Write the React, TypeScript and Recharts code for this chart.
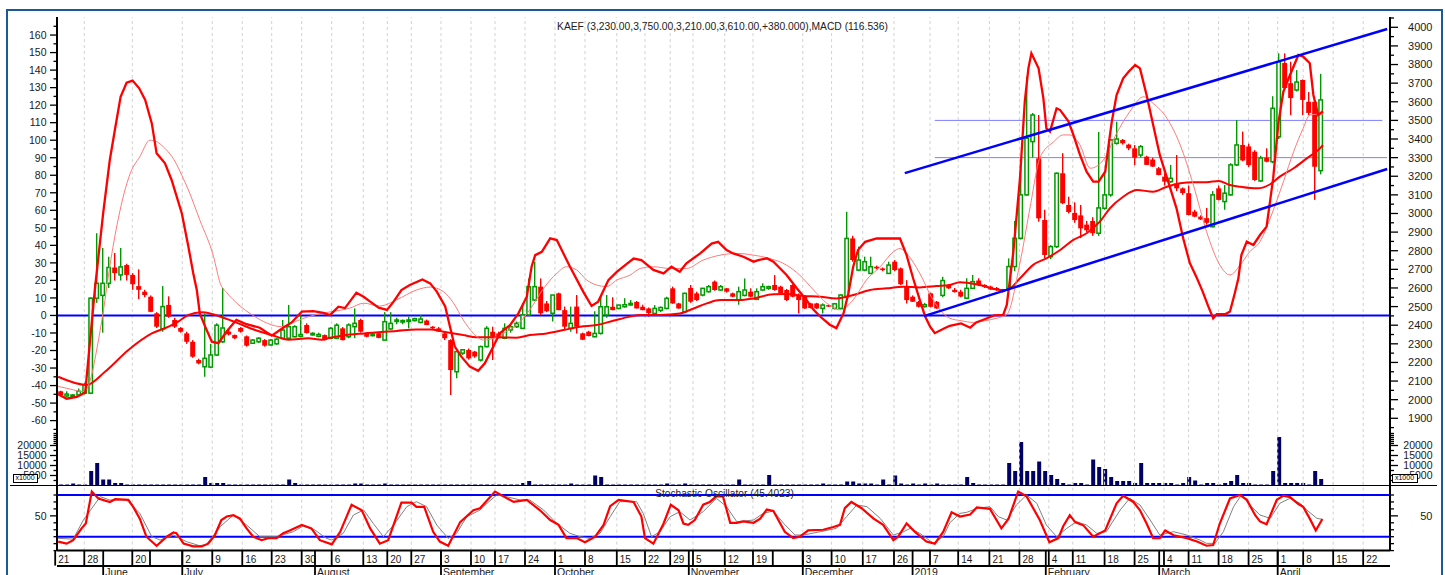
import React from 'react';
import { ComposedChart, Bar, Line, XAxis, YAxis, ReferenceLine } from 'recharts';

const FONT = '"Liberation Sans", Arial, Helvetica, sans-serif';
const GREEN = '#009a00';
const RED = '#ff0000';
const BLUE = '#0000ff';
const NAVY = '#000066';
const GRID = '#d2d2d2';

// x axis = trading-day slot index
const X_DOMAIN: [number, number] = [0.3, 222.47];
const FIRST_SLOT = 1;
const MACD_DOMAIN: [number, number] = [-66.5, 170.3];
const PRICE_DOMAIN: [number, number] = [1826.4, 4055.3];

// OHLC per trading slot (slot 1 .. 211) : [open, high, low, close]
const ohlc: [number, number, number, number][] = [
  [2045, 2048, 2018, 2025], [2020, 2045, 2012, 2030], [2018, 2030, 2012, 2025], [2025, 2060, 2020, 2045], [2035, 2090, 2028, 2080],
  [2035, 2550, 2030, 2545], [2545, 2894, 2520, 2625], [2560, 2815, 2360, 2625], [2625, 2768, 2600, 2710], [2710, 2788, 2640, 2680],
  [2670, 2815, 2640, 2713], [2723, 2730, 2640, 2670], [2670, 2680, 2590, 2620], [2610, 2700, 2540, 2590], [2580, 2590, 2550, 2562],
  [2553, 2560, 2470, 2472], [2464, 2470, 2385, 2392], [2380, 2610, 2365, 2500], [2509, 2555, 2440, 2446], [2428, 2440, 2385, 2392],
  [2385, 2390, 2360, 2365], [2356, 2365, 2300, 2311], [2311, 2320, 2225, 2231], [2213, 2220, 2190, 2195], [2177, 2464, 2123, 2222],
  [2175, 2300, 2169, 2240], [2240, 2410, 2235, 2400], [2311, 2600, 2305, 2385], [2365, 2375, 2345, 2350], [2347, 2350, 2325, 2330],
  [2385, 2390, 2360, 2365], [2340, 2345, 2285, 2290], [2303, 2325, 2300, 2320], [2311, 2335, 2305, 2330], [2320, 2325, 2285, 2290],
  [2294, 2325, 2290, 2320], [2300, 2330, 2295, 2325], [2330, 2428, 2325, 2374], [2330, 2509, 2325, 2392], [2338, 2400, 2335, 2392],
  [2340, 2455, 2335, 2350], [2401, 2410, 2355, 2358], [2350, 2362, 2345, 2356], [2340, 2360, 2335, 2350], [2347, 2350, 2318, 2320],
  [2330, 2390, 2325, 2383], [2330, 2410, 2325, 2400], [2383, 2390, 2318, 2320], [2338, 2410, 2330, 2401], [2392, 2490, 2330, 2410],
  [2428, 2435, 2360, 2365], [2356, 2360, 2335, 2338], [2348, 2356, 2340, 2352], [2356, 2360, 2330, 2332], [2320, 2470, 2318, 2419],
  [2380, 2470, 2375, 2410], [2420, 2440, 2405, 2428], [2418, 2430, 2405, 2425], [2420, 2446, 2383, 2428], [2425, 2440, 2420, 2435],
  [2415, 2455, 2410, 2433], [2425, 2430, 2400, 2401], [2392, 2395, 2380, 2383], [2383, 2390, 2365, 2366], [2356, 2360, 2320, 2330],
  [2320, 2325, 2025, 2159], [2150, 2260, 2115, 2258], [2250, 2270, 2240, 2268], [2267, 2275, 2215, 2222], [2258, 2262, 2225, 2232],
  [2213, 2290, 2205, 2285], [2285, 2395, 2280, 2383], [2365, 2392, 2213, 2338], [2356, 2365, 2330, 2338], [2330, 2410, 2325, 2383],
  [2375, 2400, 2360, 2392], [2392, 2420, 2385, 2410], [2383, 2517, 2380, 2455], [2455, 2651, 2450, 2607], [2535, 2741, 2530, 2607],
  [2607, 2651, 2455, 2464], [2517, 2530, 2470, 2475], [2464, 2562, 2420, 2562], [2571, 2575, 2480, 2481], [2481, 2500, 2375, 2392],
  [2383, 2500, 2365, 2410], [2500, 2562, 2355, 2392], [2356, 2360, 2320, 2322], [2365, 2370, 2340, 2342], [2338, 2475, 2335, 2356],
  [2356, 2562, 2350, 2499], [2455, 2562, 2440, 2499], [2499, 2550, 2480, 2481], [2490, 2510, 2485, 2508], [2499, 2545, 2495, 2510],
  [2510, 2535, 2505, 2517], [2525, 2530, 2490, 2490], [2499, 2510, 2480, 2481], [2490, 2495, 2446, 2465], [2463, 2508, 2460, 2490],
  [2480, 2500, 2470, 2495], [2490, 2553, 2485, 2544], [2598, 2607, 2515, 2517], [2517, 2520, 2488, 2490], [2472, 2575, 2470, 2571],
  [2600, 2616, 2520, 2526], [2571, 2580, 2530, 2535], [2562, 2600, 2555, 2598], [2580, 2616, 2575, 2607], [2634, 2640, 2585, 2589],
  [2589, 2616, 2585, 2607], [2598, 2600, 2575, 2580], [2571, 2575, 2550, 2553], [2535, 2607, 2510, 2580], [2560, 2651, 2555, 2589],
  [2580, 2598, 2550, 2553], [2539, 2598, 2535, 2580], [2589, 2625, 2585, 2607], [2598, 2612, 2590, 2607], [2616, 2669, 2585, 2589],
  [2607, 2612, 2570, 2571], [2589, 2595, 2530, 2535], [2616, 2620, 2550, 2553], [2562, 2571, 2463, 2535], [2553, 2560, 2488, 2490],
  [2517, 2520, 2490, 2492], [2517, 2520, 2488, 2490], [2490, 2517, 2463, 2508], [2508, 2510, 2498, 2500], [2490, 2520, 2485, 2515],
  [2490, 2565, 2488, 2562], [2553, 3009, 2550, 2866], [2866, 2880, 2741, 2750], [2696, 2822, 2690, 2750], [2696, 2768, 2690, 2741],
  [2678, 2768, 2675, 2714], [2714, 2720, 2700, 2705], [2705, 2710, 2690, 2696], [2678, 2741, 2675, 2723], [2741, 2750, 2690, 2696],
  [2705, 2710, 2616, 2620], [2607, 2642, 2517, 2535], [2553, 2560, 2525, 2526], [2526, 2530, 2495, 2499], [2500, 2520, 2495, 2510],
  [2571, 2575, 2495, 2499], [2526, 2530, 2488, 2490], [2560, 2660, 2550, 2640], [2616, 2620, 2595, 2598], [2590, 2600, 2575, 2578],
  [2580, 2590, 2550, 2554], [2545, 2652, 2540, 2598], [2598, 2670, 2595, 2634], [2640, 2652, 2610, 2616], [2616, 2620, 2600, 2605],
  [2607, 2612, 2590, 2592], [2600, 2605, 2585, 2590], [2590, 2595, 2575, 2580], [2598, 2759, 2590, 2715], [2715, 2960, 2690, 2867],
  [2867, 3252, 2860, 3100], [3100, 3735, 3095, 3404], [3386, 3540, 3300, 3529], [3296, 3529, 2956, 2974], [2965, 3020, 2760, 2777],
  [2768, 2830, 2755, 2822], [2822, 3220, 2815, 3216], [3216, 3324, 3050, 3055], [3046, 3090, 3000, 3008], [3003, 3060, 2950, 2965],
  [2990, 3046, 2868, 2920], [2940, 2960, 2900, 2910], [2960, 2980, 2880, 2894], [2894, 3438, 2880, 3030], [3028, 3216, 3020, 3100],
  [3100, 3400, 3090, 3395], [3377, 3493, 3370, 3400], [3395, 3400, 3370, 3377], [3370, 3375, 3340, 3350], [3350, 3368, 3260, 3300],
  [3314, 3368, 3300, 3359], [3305, 3310, 3260, 3261], [3290, 3300, 3250, 3252], [3243, 3250, 3205, 3207], [3198, 3216, 3150, 3171],
  [3171, 3261, 3165, 3189], [3160, 3314, 3120, 3135], [3135, 3140, 3100, 3110], [3109, 3150, 2990, 2992], [3010, 3020, 2980, 2983],
  [2983, 2990, 2965, 2968], [2975, 3030, 2940, 2950], [2929, 3120, 2925, 3100], [3135, 3150, 3070, 3073], [3064, 3153, 3020, 3109],
  [3100, 3270, 3095, 3261], [3261, 3502, 3255, 3368], [3368, 3440, 3280, 3285], [3360, 3375, 3250, 3260], [3332, 3340, 3175, 3180],
  [3175, 3310, 3170, 3298], [3300, 3350, 3275, 3278], [3278, 3630, 3270, 3565], [3412, 3860, 3400, 3815], [3808, 3860, 3670, 3674],
  [3700, 3815, 3528, 3620], [3663, 3770, 3655, 3706], [3717, 3720, 3528, 3610], [3600, 3652, 3528, 3540], [3600, 3610, 3073, 3251],
  [3230, 3750, 3210, 3610],
];

// volume per slot (axis units, x1000 shares)
const volume: number[] = [
  500, 500, 1000, 500, 500, 7200, 11200, 3000, 3000, 1300,
  1300, 500, 500, 500, 500, 500, 500, 500, 500, 500,
  500, 500, 500, 500, 4200, 1300, 1300, 1300, 500, 500,
  500, 500, 500, 500, 500, 500, 500, 500, 3000, 1300,
  500, 500, 500, 500, 500, 500, 500, 500, 500, 1000,
  1000, 500, 500, 500, 1000, 500, 500, 500, 500, 500,
  500, 500, 500, 500, 500, 500, 500, 500, 500, 500,
  500, 500, 500, 500, 500, 500, 500, 1300, 2200, 500,
  500, 500, 500, 500, 500, 1000, 500, 500, 500, 5000,
  4200, 500, 500, 500, 500, 500, 500, 500, 500, 500,
  500, 1000, 500, 500, 1000, 500, 500, 500, 500, 500,
  500, 500, 500, 3000, 500, 500, 500, 500, 5300, 500,
  500, 500, 500, 500, 500, 500, 500, 1000, 500, 500,
  500, 2000, 2000, 1000, 1000, 1000, 500, 3000, 500, 5000,
  1000, 500, 1000, 500, 1000, 500, 1000, 500, 500, 500,
  500, 4200, 1300, 500, 500, 500, 500, 500, 11200, 7200,
  21800, 7200, 7200, 12000, 7200, 5300, 3200, 1300, 500, 1300,
  1300, 500, 13000, 9200, 8300, 4200, 2200, 2200, 2200, 1300,
  11200, 1300, 1300, 1300, 1300, 1300, 500, 1300, 4200, 2500,
  500, 1300, 1300, 500, 1300, 2200, 5300, 1300, 1300, 500,
  500, 500, 7200, 24200, 1300, 1300, 1300, 1300, 500, 7200,
  3200,
];

// MACD (thick) : [slot, value]
const macdPts: [number, number][] = [
  [0.5, -45], [1.9, -47.5], [3.6, -46.5], [5, -44], [6.6, 14.5], [8, 58.5], [9.1, 88.7], [10, 107], [10.9, 124.8], [11.9, 132.8],
  [12.9, 134], [14, 129.6], [15, 123], [16.1, 109.6], [16.9, 92.5], [18.3, 86.8], [19.4, 77.3], [21.1, 58.3], [22.2, 39.2], [23, 24.2],
  [23.6, 14.5], [24.1, 1.2], [25, -6.4], [26.1, -15], [27.2, -15.8], [28.6, -9], [30.2, -2.5], [31.9, -5], [34.1, -7], [36.1, -11.5],
  [38, -7], [39.4, -4], [41.1, 2.2], [43, 2.5], [44.7, 1.5], [45.8, 0.2], [47.2, 5], [48.3, 4.2], [50.2, 13], [51.4, 10.7],
  [52.5, 7.9], [53.9, 4.5], [55.3, 3.2], [56.4, 7.9], [57.7, 14.5], [59.1, 17.4], [61.2, 20.5], [62.5, 18.3], [63.6, 13.6], [65, 5.1],
  [65.8, -6.4], [66.6, -17.8], [67.7, -23.5], [69.1, -29.2], [70.5, -31.6], [71.6, -27.3], [73, -17.8], [74.1, -10.2], [75.8, -5.5], [77.2, 1.2],
  [78.6, 10.7], [79.4, 27.8], [80, 34.4], [81.1, 36.3], [82.5, 44], [83.6, 43], [85.8, 27.8], [88, 13.6], [89.4, 5.4], [90.5, 7.9],
  [92.2, 20.2], [93.6, 24.9], [95, 28.7], [96.4, 32.5], [97.7, 31.6], [99.7, 26], [101.4, 24], [102.7, 27.8], [104.1, 24.9], [105.2, 29.7],
  [107.5, 35.4], [109.4, 41], [110.5, 42], [111.9, 37.3], [113, 35.4], [114.7, 33.5], [116.4, 30.7], [117.2, 31.6], [118.6, 32.6], [119.7, 30.7],
  [121.9, 23.1], [123.6, 15.5], [125.2, 8.9], [126.4, 3.2], [127.5, -0.6], [129.1, -5.3], [130.2, -7.2], [131.4, 1.3], [132.2, 12.7], [133, 27.8],
  [133.8, 37.3], [135, 42], [136.9, 43.9], [138.6, 43.9], [140.8, 43.9], [141.9, 34.4], [143, 21.1], [144.1, 8.9], [145, -0.6], [145.8, -6.3],
  [146.6, -10.1], [148.3, -7.2], [149.1, -5.9], [151, -4.5], [152.5, -7], [153.5, -4], [155, -2], [156.5, 0], [158, 0.3], [158.6, 6],
  [159.7, 36.4], [160.8, 78.3], [161.6, 122], [162.2, 141], [162.7, 149.6], [163.9, 141], [164.7, 123.9], [165.2, 106.8], [165.8, 104.9], [166.9, 118.2],
  [167.5, 117.2], [168.9, 110.6], [169.7, 103], [170.8, 91.6], [171.9, 82], [173, 76.4], [173.9, 76.4], [175, 82], [175.5, 95.4], [176.1, 110.6],
  [176.9, 125.8], [178, 135.3], [178.9, 139.1], [180, 142.9], [180.8, 141], [181.9, 125.8], [183, 108.7], [184.1, 91.6], [185.5, 76.4], [186.9, 61],
  [188, 44], [189.1, 30], [190.2, 22], [191.2, 14], [192.2, 5], [193, -1.6], [193.6, 0.7], [195, 0.7], [195.8, 2.2], [196.6, 12.7],
  [197.2, 21.2], [197.7, 34.5], [198.6, 42.1], [199.7, 40.2], [200.8, 45.9], [201.9, 50.7], [203, 78.3], [203.9, 110.6], [204.7, 127.7], [205.8, 137.2],
  [207.2, 148.6], [208, 147.7], [209.1, 143.9], [209.7, 125.8], [210.5, 114.4], [211.3, 116.5],
];

// MACD signal (thin)
const signalPts: [number, number][] = [
  [0.5, -40.5], [2.5, -42], [4.7, -43.5], [6, -35], [7, -18], [8, 2], [9.1, 28], [10.5, 55], [12.5, 81], [14.1, 90.6],
  [15.8, 100], [17, 99], [18, 96.3], [20, 87.7], [21.1, 80], [22.2, 71.6], [24.1, 54.5], [26.4, 33.5], [27.5, 18.4], [28.6, 13],
  [30, 7.9], [33.3, -0.7], [36.1, -5.4], [37.7, -6.4], [40, -3.5], [42.2, -0.7], [44.4, 1.2], [45.8, 2], [47.7, 3.1], [49.1, 4.2],
  [51.4, 7], [54.1, 5.4], [56.9, 8.9], [60.2, 14.5], [62.5, 16.2], [64.7, 13.6], [66.4, 7], [68, -2.5], [69.7, -10.2], [71.4, -14],
  [73.6, -12.4], [75.2, -9.2], [76.9, -5.5], [79.1, 3.2], [81.4, 15.5], [83.6, 24], [85.2, 27.8], [86.9, 26], [88.6, 20.2], [90.2, 17.4],
  [91.9, 16.5], [93.6, 20.2], [95.8, 23], [97.5, 26.8], [99.7, 27.8], [102.5, 26.8], [105.2, 26.8], [108, 31.6], [110.8, 34.4], [113.6, 35.4],
  [116.4, 34.4], [119.1, 32.5], [121.9, 28.7], [124.1, 23], [126.4, 14.5], [128.6, 7], [130.8, 3.2], [133, 8.9], [135.2, 20.2], [137.5, 27.8],
  [139.7, 36.3], [140.8, 38.2], [141.9, 35.4], [144.1, 24], [146.3, 8.9], [149.1, -1.6], [151, -3], [153, -4], [155, -3], [157, -1.5],
  [158.6, 0.5], [160.8, 30], [162.5, 62], [164.1, 89.7], [166.4, 99.1], [168, 103], [169.1, 103], [170.8, 97.3], [172.5, 84], [174.7, 88.7],
  [176.9, 103.9], [179.1, 116.3], [181.4, 124.8], [183, 121], [185.3, 112.5], [187.5, 97.3], [189.7, 74.4], [191.9, 47.8], [194.1, 28.8], [195.8, 23.1],
  [197.5, 28.8], [199.1, 36.4], [200.8, 42.1], [202.5, 55.4], [204.7, 76.3], [206.4, 93.4], [208, 106.8], [209.1, 114.4], [211.3, 115],
];

// price moving average (price axis)
const maPts: [number, number][] = [
  [0.5, 2123], [5.2, 2079], [8.3, 2150], [12.2, 2267], [16.1, 2356], [18.9, 2392], [20.5, 2419], [22.2, 2455], [24.4, 2469], [26.1, 2460],
  [28.3, 2437], [30.5, 2410], [33.3, 2374], [36.1, 2347], [38.9, 2322], [42.2, 2330], [44.4, 2322], [45.8, 2333], [48, 2345], [51.4, 2356],
  [56.9, 2369], [60.2, 2377], [62.5, 2377], [64.7, 2365], [68, 2347], [70.2, 2335], [73.6, 2335], [76.9, 2333], [79.1, 2347], [81.9, 2356],
  [84.7, 2374], [87.5, 2392], [90.2, 2401], [93, 2424], [95.8, 2446], [97.5, 2455], [100.8, 2455], [104.1, 2463], [106.4, 2490], [108.6, 2517],
  [110.8, 2535], [114.1, 2535], [116.4, 2544], [119.7, 2566], [121.9, 2567], [124.7, 2557], [127.5, 2553], [130.2, 2544], [133, 2562], [135.8, 2589],
  [138.6, 2598], [141.4, 2607], [144.1, 2603], [146.9, 2610], [149.1, 2616], [150.8, 2631], [154.1, 2616], [157.5, 2589], [158.6, 2589], [160.8, 2652],
  [163, 2724], [165.2, 2759], [167.5, 2804], [169.7, 2858], [171.9, 2894], [174.1, 2956], [175.8, 3028], [178, 3090], [180.3, 3126], [183, 3117],
  [185.3, 3144], [187.5, 3162], [189.7, 3168], [191.9, 3168], [193.9, 3175], [195.8, 3153], [197.5, 3144], [200.3, 3135], [202.5, 3157], [204.1, 3198],
  [206.4, 3243], [208.6, 3296], [210.8, 3350], [211.3, 3368],
];

// Stochastic %K (red) and %D (grey)
const stochK: [number, number][] = [
  [0.5, 13], [1.9, 10], [3, 15], [4.4, 32], [5.1, 39], [6.1, 85], [7.2, 75], [9.1, 70], [10, 74], [12.2, 73],
  [13, 63], [14.1, 46], [15.2, 20], [16.9, 7], [18.6, 20], [19.7, 26], [20.2, 25], [21.4, 10], [23, 6], [24.4, 6],
  [25.5, 10], [26.6, 22], [27.7, 44], [28.6, 49], [29.7, 51], [30.8, 46], [31.9, 32], [33, 20], [34.4, 15], [35.5, 18],
  [36.9, 18], [38, 25], [39.1, 29], [41.1, 37], [42.7, 32], [44.1, 15], [46.1, 9], [47.5, 27], [49.4, 66], [51.1, 58],
  [52.5, 32], [54.1, 10], [55.5, 15], [57.7, 69], [59.4, 69], [60.2, 63], [61.5, 63], [63, 27], [64.1, 13], [65.5, 7],
  [67.5, 41], [69.7, 58], [70.8, 61], [73.3, 85], [76.4, 70], [78.6, 73], [80.8, 58], [82.5, 44], [83.9, 37], [85.2, 18],
  [86.9, 18], [88.3, 12], [90, 20], [91.4, 37], [92.5, 64], [93.9, 73], [96.4, 70], [97.7, 49], [98.3, 18], [99.7, 10],
  [101.4, 39], [102.6, 66], [103.9, 58], [104.7, 39], [105.5, 37], [106.6, 44], [108, 66], [109.1, 70], [110.2, 78], [111.3, 78],
  [112.5, 40], [113.6, 40], [114.7, 42], [116.4, 40], [117.5, 46], [118.6, 59], [119.7, 57], [121.6, 27], [123, 18], [124.1, 20],
  [125.5, 29], [128, 30], [129.7, 34], [130.8, 37], [131.6, 61], [132.7, 70], [134.4, 61], [136.4, 46], [138, 37], [139.7, 15],
  [140.5, 20], [141.9, 39], [143.3, 27], [145.2, 13], [146.6, 10], [148, 27], [149.4, 55], [150.8, 49], [152.5, 52], [153.6, 62],
  [155.8, 60], [157.7, 32], [158.9, 46], [160.5, 85], [161.9, 78], [164.1, 44], [165.7, 12], [167.2, 18], [168, 35], [169.1, 51],
  [170, 41], [171.4, 36], [173, 20], [175, 29], [176.9, 68], [178, 79], [179.7, 70], [180.8, 58], [181.9, 39], [183, 18],
  [184.1, 18], [185, 29], [186.4, 22], [188.6, 18], [190.3, 13], [191.9, 7], [193, 8], [194.1, 39], [195.8, 75], [197.5, 80],
  [198.6, 73], [200, 51], [200.8, 42], [201.9, 38], [203.6, 73], [204.7, 79], [205.8, 77], [207.2, 67], [208, 63], [209.1, 46],
  [210.1, 29], [211.2, 45.4],
];

const stochD: [number, number][] = [
  [0.5, 17.6], [3, 16.6], [4.7, 44], [7.5, 77.6], [9.1, 72.8], [11.9, 72.8], [14.1, 53.6], [16.1, 20], [17.5, 15.2], [19.7, 22.4],
  [21.9, 12.8], [24.1, 7], [25.2, 9], [27.5, 34.4], [29.7, 51.2], [31.9, 36.8], [34.1, 20], [36.9, 20], [39.7, 27.2], [41.4, 35.8],
  [43.3, 29.6], [45.2, 17.6], [46.1, 15.2], [48, 24.8], [49.7, 51.2], [51.4, 58.4], [53, 39.2], [54.7, 20], [56.4, 36.8], [58.6, 63.2],
  [60.2, 70.4], [61.9, 63.2], [63.6, 36.8], [65.5, 17.6], [66.9, 24.8], [68.6, 48.8], [70.8, 58.4], [71.3, 63.2], [73.6, 80], [75.2, 77.6],
  [77.5, 72.8], [79.1, 72.8], [81.4, 58.4], [83.6, 39.2], [85.8, 24.8], [87.5, 20], [89.1, 17.6], [90.8, 24.8], [92.5, 48.8], [94.1, 70.4],
  [96.9, 70.4], [98, 53.6], [99.4, 20], [100.8, 27.2], [102.5, 48.8], [104.1, 56], [105.8, 44], [108, 56], [110.2, 75.2], [111.9, 63.2],
  [113.6, 41.6], [116.4, 44], [118, 53.6], [119.7, 57], [121.4, 39.2], [123.3, 22.4], [124.7, 22.4], [127.5, 27.2], [130.2, 32], [131.9, 48.8],
  [133.6, 65.6], [135.3, 63.2], [137.5, 46.4], [139.7, 22.4], [141.4, 27.2], [142.5, 32], [144.1, 24.8], [146.4, 10.4], [148, 20], [149.1, 40],
  [150.8, 53.6], [151.9, 55], [153.6, 60.8], [155.8, 63.2], [157.2, 48.8], [158.6, 44], [160.2, 65.6], [161.9, 80], [163.6, 68], [165.2, 36.8],
  [166.9, 20], [168.6, 32], [170.2, 41.6], [171.9, 36.8], [173.6, 24.8], [175.2, 27.2], [177.5, 58.4], [179.1, 75.2], [180.8, 65.6], [182.5, 44],
  [184.1, 22.4], [186.4, 27.2], [188.6, 22.4], [190.8, 15.2], [191.9, 10.4], [193.3, 10.4], [194.7, 27.2], [196.4, 63.2], [197.7, 80], [199.4, 63.2],
  [200.8, 51.2], [202.5, 46.4], [204.1, 68], [205.8, 75.2], [207.5, 68], [208.6, 58.4], [210.3, 46.4], [211.2, 45],
];

// annotations (slot, price)
const channelUpper = [{ x: 141.6, y: 3217 }, { x: 222.0, y: 3991 }];
const channelLower = [{ x: 144.8, y: 2449 }, { x: 222.0, y: 3239 }];
const level3500 = [{ x: 146.6, y: 3500 }, { x: 221.2, y: 3500 }];
const level3300 = [{ x: 146.6, y: 3300 }, { x: 222.0, y: 3300 }];

// date axis
const weekTicks: [number, string][] = [
  [0, '21'], [4.85, '28'], [12.85, '20'], [15.8, ''], [21.18, '2'], [26.18, '9'], [31.18, '16'], [36.08, '23'], [41.08, '30'],
  [46.08, '6'], [51.35, '13'], [55.35, '20'], [59.35, '27'], [64.3, '3'], [69.3, '10'], [73.3, '17'], [78.3, '24'], [83.3, '1'],
  [88.3, '8'], [93.6, '15'], [98.3, '22'], [102.5, '29'], [106.3, '5'], [111.6, '12'], [116.3, '19'], [119.6, ''], [124.6, '3'],
  [129.4, '10'], [134.6, '17'], [139.8, '26'], [145.8, '7'], [150.5, '14'], [155.7, '21'], [160.7, '28'], [165.6, '4'], [169.6, '11'],
  [174.9, '18'], [179.9, '25'], [184.8, '4'], [188.9, '11'], [193.9, '18'], [198.9, '25'], [203.75, '1'], [208.0, '8'], [213.0, '15'],
  [218.0, '22'],
];
const monthTicks: [number, string][] = [
  [8.0, 'June'], [21.18, 'July'], [43.3, 'August'], [64.3, 'September'], [83.3, 'October'], [105.6, 'November'],
  [124.6, 'December'], [142.9, '2019'], [165.1, 'February'], [184.0, 'March'], [203.75, 'April'],
];

// axis labels
const macdLabels = [-60, -50, -40, -30, -20, -10, 0, 10, 20, 30, 40, 50, 60, 70, 80, 90, 100, 110, 120, 130, 140, 150, 160];
const priceLabels = [1900, 2000, 2100, 2200, 2300, 2400, 2500, 2600, 2700, 2800, 2900, 3000, 3100, 3200, 3300, 3400, 3500, 3600, 3700, 3800, 3900, 4000];
const volLabels = [5000, 10000, 15000, 20000];
const volMinor = [2500, 7500, 12500, 17500, 21000, 22000, 23000, 24000, 25000, 26000];
const stochLabels = [50];
const stochMinor = [0, 10, 20, 30, 40, 60, 70, 80];

const withMid = (arr: number[], step: number) => {
  const out: number[] = [];
  arr.forEach((v) => { out.push(v); out.push(v + step / 2); });
  out.push(arr[0] - step / 2);
  return out.sort((a, b) => a - b);
};
const macdTicks = withMid(macdLabels, 10);
const priceTicks = withMid(priceLabels, 100);
const volTicks = [...volLabels, ...volMinor].sort((a, b) => a - b);
const stochTicks = [...stochLabels, ...stochMinor].sort((a, b) => a - b);

const candleRows = ohlc.map((r, i) => ({ s: i + FIRST_SLOT, o: r[0], h: r[1], l: r[2], c: r[3] }));
const volRows = volume.map((v, i) => ({ s: i + FIRST_SLOT, v }));
const toPts = (arr: [number, number][]) => arr.map(([s, v]) => ({ s, v }));
const macdData = toPts(macdPts);
const signalData = toPts(signalPts);
const maData = toPts(maPts);
const kData = toPts(stochK);
const dData = toPts(stochD);
const gridSlots = weekTicks.filter(([s, l]) => l !== '' && s > 0.3).map(([s]) => s);
const dateTickValues = Array.from(new Set([...weekTicks.map((w) => w[0]), ...monthTicks.map((m) => m[0])])).sort((a, b) => a - b);

const AXIS_L = 57;
const AXIS_R = 1390;
const W = 1445;

const makeLeftTick = (labels: number[]) => (props: any) => {
  const { y, payload } = props;
  const v = payload.value;
  const major = labels.includes(v);
  return (
    <g>
      <line x1={major ? AXIS_L - 7 : AXIS_L - 3.5} x2={AXIS_L} y1={y} y2={y} stroke="#000" strokeWidth={1.3} />
      {major && (
        <text x={46.5} y={y} dy="0.36em" textAnchor="end" fontSize={10.5} fontFamily={FONT} fill="#1a1a1a">{v}</text>
      )}
    </g>
  );
};
const makeRightTick = (labels: number[], fs: number) => (props: any) => {
  const { y, payload } = props;
  const v = payload.value;
  const major = labels.includes(v);
  return (
    <g>
      <line x1={AXIS_R} x2={major ? AXIS_R + 8 : AXIS_R + 4} y1={y} y2={y} stroke="#000" strokeWidth={1.3} />
      {major && (
        <text x={1432.5} y={y} dy="0.36em" textAnchor="end" fontSize={fs} fontFamily={FONT} fill="#1a1a1a">{v}</text>
      )}
    </g>
  );
};

const STOCH_AXIS_Y = 80.6;
const DateTick = (props: any) => {
  const { x, payload } = props;
  const v = payload.value;
  const wk = weekTicks.find((w) => Math.abs(w[0] - v) < 0.01);
  const mo = monthTicks.find((m) => Math.abs(m[0] - v) < 0.01);
  return (
    <g>
      {wk && <line x1={x} x2={x} y1={STOCH_AXIS_Y} y2={STOCH_AXIS_Y + 15} stroke="#000" strokeWidth={1.8} />}
      {wk && wk[1] && (
        <text x={x + 3} y={STOCH_AXIS_Y + 12.3} fontSize={10} fontFamily={FONT} fill="#1a1a1a">{wk[1]}</text>
      )}
      {mo && <line x1={x} x2={x} y1={STOCH_AXIS_Y} y2={STOCH_AXIS_Y + 26} stroke="#000" strokeWidth={1.8} />}
      {mo && (
        <text x={x + 2} y={STOCH_AXIS_Y + 25.2} fontSize={10.5} fontFamily={FONT} fill="#1a1a1a">{mo[1]}</text>
      )}
    </g>
  );
};

const Candle = (props: any) => {
  const { x, y, width, height, payload } = props;
  if (!payload || height == null) return null;
  const { o, h, l, c } = payload;
  const span = h - l || 1;
  const toY = (v: number) => y + ((h - v) / span) * height;
  const up = c >= o;
  const color = up ? GREEN : RED;
  const cx = x + width / 2;
  const top = toY(Math.max(o, c));
  const bot = toY(Math.min(o, c));
  const bh = Math.max(bot - top, 1.5);
  return (
    <g>
      <line x1={cx} x2={cx} y1={y} y2={y + height} stroke={color} strokeWidth={1.4} />
      {up ? (
        <rect x={x + 0.75} y={top} width={width - 1.5} height={bh} fill="#fff" stroke={color} strokeWidth={1.5} />
      ) : (
        <rect x={x} y={top} width={width} height={bh} fill={color} />
      )}
    </g>
  );
};

const axisLineStyle = { stroke: '#000', strokeWidth: 2 };
const layer = (top: number): React.CSSProperties => ({ position: 'absolute', left: 0, top });
const MAIN_MARGIN = { top: 17, right: W - AXIS_R, bottom: 8, left: AXIS_L };

export default function App() {
  return (
    <div style={{ position: 'relative', width: W, height: 575, overflow: 'hidden', background: '#fff', fontFamily: FONT }}>
      <style>{'html,body{margin:0;padding:0;background:#fff;}'}</style>
      <div style={{ position: 'absolute', left: 6, top: 9, width: 1437, height: 640, border: '2px solid #1c5a97', boxSizing: 'border-box' }} />

      {/* main panel: axes, grid, fixed levels */}
      <div style={layer(0)}>
        <ComposedChart width={W} height={440} margin={{ top: 17, right: 0, bottom: 8, left: 0 }}>
          <XAxis dataKey="s" type="number" domain={X_DOMAIN} allowDataOverflow hide height={0} />
          <YAxis yAxisId="macd" orientation="left" width={AXIS_L} domain={MACD_DOMAIN} allowDataOverflow ticks={macdTicks}
            interval={0} tick={makeLeftTick(macdLabels)} tickLine={false} axisLine={axisLineStyle} />
          <YAxis yAxisId="price" orientation="right" width={W - AXIS_R} domain={PRICE_DOMAIN} allowDataOverflow ticks={priceTicks}
            interval={0} tick={makeRightTick(priceLabels, 11)} tickLine={false} axisLine={axisLineStyle} />
          {gridSlots.map((s) => (
            <ReferenceLine key={'g' + s} x={s} yAxisId="price" stroke={GRID} strokeDasharray="3 3" strokeWidth={1} />
          ))}
          <ReferenceLine y={0} yAxisId="macd" stroke={BLUE} strokeWidth={2} />
          <ReferenceLine yAxisId="price" segment={level3500} stroke="#7f7fff" strokeWidth={1} />
          <ReferenceLine yAxisId="price" segment={level3300} stroke="#7f7fff" strokeWidth={1} />
        </ComposedChart>
      </div>

      {/* main panel: candlesticks */}
      <div style={layer(0)}>
        <ComposedChart width={W} height={440} data={candleRows} margin={MAIN_MARGIN}>
          <XAxis dataKey="s" type="number" domain={X_DOMAIN} allowDataOverflow hide height={0} />
          <YAxis yAxisId="price" domain={PRICE_DOMAIN} allowDataOverflow hide width={0} />
          <Bar yAxisId="price" dataKey={(d: any) => [d.l, d.h]} barSize={5} shape={(p: any) => <Candle {...p} />} isAnimationActive={false} />
        </ComposedChart>
      </div>

      {/* main panel: MA, MACD, signal, channel */}
      <div style={layer(0)}>
        <ComposedChart width={W} height={440} margin={MAIN_MARGIN}>
          <XAxis dataKey="s" type="number" domain={X_DOMAIN} allowDataOverflow hide height={0} />
          <YAxis yAxisId="macd" domain={MACD_DOMAIN} allowDataOverflow hide width={0} />
          <YAxis yAxisId="price" domain={PRICE_DOMAIN} allowDataOverflow hide width={0} />
          <Line yAxisId="price" data={maData} dataKey="v" type="monotone" stroke={RED} strokeWidth={2} dot={false} activeDot={false} isAnimationActive={false} />
          <Line yAxisId="macd" data={signalData} dataKey="v" type="monotone" stroke="#ff7a7a" strokeWidth={1} dot={false} activeDot={false} isAnimationActive={false} />
          <Line yAxisId="macd" data={macdData} dataKey="v" type="linear" stroke={RED} strokeWidth={2.3} dot={false} activeDot={false} isAnimationActive={false} />
          <ReferenceLine yAxisId="price" segment={channelUpper} stroke={BLUE} strokeWidth={2.5} />
          <ReferenceLine yAxisId="price" segment={channelLower} stroke={BLUE} strokeWidth={2.5} />
        </ComposedChart>
      </div>

      {/* volume panel */}
      <div style={layer(420)}>
        <ComposedChart width={W} height={70} data={volRows} margin={{ top: 12, right: 0, bottom: 4.5, left: 0 }}>
          <XAxis dataKey="s" type="number" domain={X_DOMAIN} allowDataOverflow hide height={0} />
          <YAxis yAxisId="v" orientation="left" width={AXIS_L} domain={[0, 26750]} allowDataOverflow ticks={volTicks}
            interval={0} tick={makeLeftTick(volLabels)} tickLine={false} axisLine={axisLineStyle} />
          <YAxis yAxisId="v2" orientation="right" width={W - AXIS_R} domain={[0, 26750]} allowDataOverflow ticks={volTicks}
            interval={0} tick={makeRightTick(volLabels, 10.5)} tickLine={false} axisLine={axisLineStyle} />
          {gridSlots.map((s) => (
            <ReferenceLine key={'vg' + s} x={s} yAxisId="v" stroke={GRID} strokeDasharray="3 3" strokeWidth={1} />
          ))}
          <Bar yAxisId="v" dataKey="v" barSize={4} fill={NAVY} isAnimationActive={false} />
        </ComposedChart>
      </div>

      {/* stochastic panel + date axis */}
      <div style={layer(470)}>
        <ComposedChart width={W} height={105} margin={{ top: 11.1, right: 0, bottom: 0, left: 0 }}>
          <XAxis dataKey="s" type="number" domain={X_DOMAIN} allowDataOverflow ticks={dateTickValues} interval={0}
            tick={(p: any) => <DateTick {...p} />} tickLine={false} axisLine={axisLineStyle} height={24.4} />
          <YAxis yAxisId="st" orientation="left" width={AXIS_L} domain={[0, 100]} allowDataOverflow ticks={stochTicks}
            interval={0} tick={makeLeftTick(stochLabels)} tickLine={false} axisLine={axisLineStyle} />
          <YAxis yAxisId="st2" orientation="right" width={W - AXIS_R} domain={[0, 100]} allowDataOverflow ticks={stochTicks}
            interval={0} tick={makeRightTick(stochLabels, 11)} tickLine={false} axisLine={axisLineStyle} />
          {gridSlots.map((s) => (
            <ReferenceLine key={'sg' + s} x={s} yAxisId="st" stroke={GRID} strokeDasharray="3 3" strokeWidth={1} />
          ))}
          <ReferenceLine y={80} yAxisId="st" stroke={BLUE} strokeWidth={2} />
          <ReferenceLine y={20} yAxisId="st" stroke={BLUE} strokeWidth={2} />
          <Line yAxisId="st" data={dData} dataKey="v" type="linear" stroke="#808080" strokeWidth={1} dot={false} activeDot={false} isAnimationActive={false} />
          <Line yAxisId="st" data={kData} dataKey="v" type="linear" stroke={RED} strokeWidth={2.2} dot={false} activeDot={false} isAnimationActive={false} />
        </ComposedChart>
      </div>

      {/* panel separators */}
      <div style={{ position: 'absolute', left: 10, top: 484.8, width: 1427, height: 1.6, background: '#000' }} />
      <div style={{ position: 'absolute', left: AXIS_L, top: 565, width: AXIS_R - AXIS_L, height: 1.5, background: '#000' }} />

      {/* x1000 unit boxes */}
      <div style={{ position: 'absolute', left: 12.5, top: 474, width: 25, height: 9, border: '1.5px solid #000', background: '#fff', boxSizing: 'border-box', fontSize: 7, lineHeight: '6px', textAlign: 'center', color: '#000' }}>x1000</div>
      <div style={{ position: 'absolute', left: 1391.5, top: 474, width: 26, height: 9, border: '1.5px solid #000', background: '#fff', boxSizing: 'border-box', fontSize: 7, lineHeight: '6px', textAlign: 'center', color: '#000' }}>x1000</div>

      {/* titles */}
      <div style={{ position: 'absolute', left: 0, top: 21.4, width: W, textAlign: 'center', fontSize: 10.3, lineHeight: '12px', color: '#222', whiteSpace: 'nowrap' }}>
        KAEF (3,230.00,3,750.00,3,210.00,3,610.00,+380.000),MACD (116.536)
      </div>
      <div style={{ position: 'absolute', left: 2, top: 487.5, width: W, textAlign: 'center', fontSize: 10.2, lineHeight: '12px', color: '#222', whiteSpace: 'nowrap' }}>
        Stochastic Oscillator (45.4023)
      </div>
    </div>
  );
}
